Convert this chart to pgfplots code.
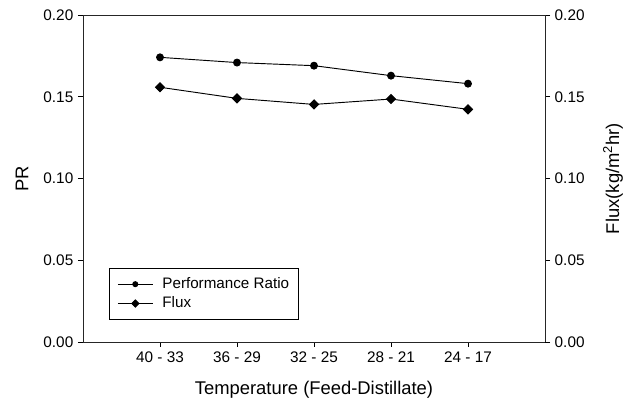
\documentclass[border=0pt]{standalone}
\usepackage{fontspec}
\setmainfont{Liberation Sans}
\usepackage{pgfplots}
\usepackage{pgfplotstable}
\pgfplotsset{compat=1.18}

% temperature pairs at positions 1..5
\pgfplotstableread{
x   pr     flux
1   0.1741 0.1558
2   0.1709 0.1490
3   0.1690 0.1453
4   0.1629 0.1486
5   0.1580 0.1423
}\datatable

\pgfplotsset{
  base/.style={
    scale only axis,
    width=346.5pt, height=245.25pt,
    xmin=0, xmax=6, ymin=0, ymax=0.2,
    ytick={0,0.05,0.1,0.15,0.2},
    yticklabel style={/pgf/number format/.cd, fixed, fixed zerofill, precision=2},
    /pgf/number format/assume math mode=true,
    tick align=outside,
    major tick length=3.75pt,
    tick style={black, line width=0.7pt},
    axis line style={line width=0.7pt, black!85},
    tick label style={font=\fontsize{11.5}{13}\selectfont},
    label style={font=\fontsize{13.8}{16}\selectfont},
  },
  prline/.style={black, line width=0.7pt, mark=*, mark size=2.6pt},
  fluxline/.style={black, line width=0.7pt, mark=square*,
    mark options={rotate=45}, mark size=2.4pt},
}

\begin{document}
\begin{tikzpicture}
\begin{axis}[
  base,
  xtick={1,2,3,4,5},
  xticklabels={40 - 33, 36 - 29, 32 - 25, 28 - 21, 24 - 17},
  xtick pos=bottom,
  ytick pos=left,
  xlabel={Temperature (Feed-Distillate)},
  ylabel={PR},
  xlabel style={at={(axis description cs:0.5,-0.147)}, anchor=center},
  ylabel style={at={(axis description cs:-0.132,0.5)}, anchor=center, rotate=0},
]
\addplot[prline] table[x=x, y=pr] {\datatable};
\end{axis}
\begin{axis}[
  base,
  axis x line=none,
  axis y line*=right,
  ylabel={Flux(kg/m\textsuperscript{2}hr)},
  ylabel style={at={(axis description cs:1.147,0.5)}, anchor=center, rotate=0},
  legend cell align=left,
  legend style={
    at={(axis description cs:0.0563,0.0673)}, anchor=south west,
    draw=black, line width=0.7pt,
    font=\fontsize{11.4}{13}\selectfont,
    inner xsep=6pt, inner ysep=5.5pt,
    row sep=1.5pt,
    nodes={inner sep=1pt, text height=8.5pt, text depth=2.5pt},
    /tikz/every odd column/.append style={column sep=6pt},
  },
  legend image code/.code={
    \draw[mark repeat=2, mark phase=2, #1, line width=0.7pt, mark size=1.9pt]
      plot coordinates {(0pt,0pt) (13pt,0pt) (26pt,0pt)};
  },
]
\addlegendimage{black, mark=*}
\addlegendentry{Performance Ratio}
\addplot[fluxline] table[x=x, y=flux] {\datatable};
\addlegendentry{Flux}
\end{axis}
\pgfresetboundingbox
\useasboundingbox ([xshift=-62.25pt, yshift=-50.25pt]current axis.south west)
  rectangle ([xshift=63.75pt, yshift=11.25pt]current axis.north east);
\end{tikzpicture}
\end{document}
